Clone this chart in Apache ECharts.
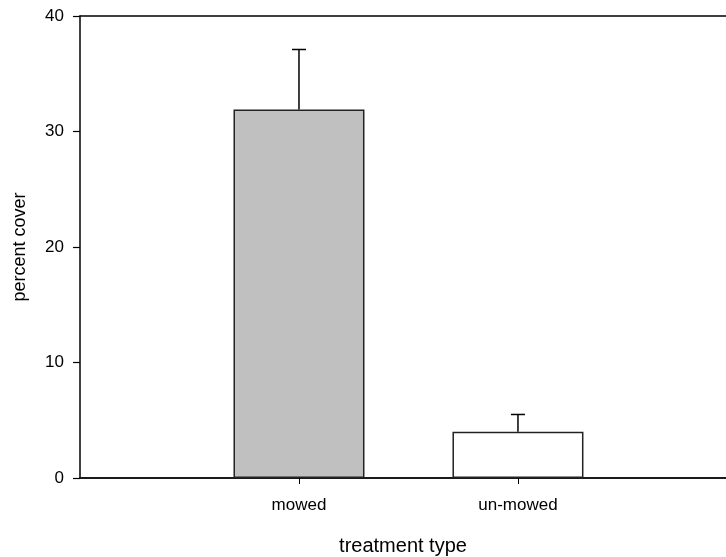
<!DOCTYPE html>
<html><head><meta charset="utf-8">
<script src="https://cdn.jsdelivr.net/npm/echarts@6/dist/echarts.min.js"></script>
<style>html,body{margin:0;padding:0;background:#fff}#c{width:726px;height:557px}</style>
</head><body><div id="c"></div>
<script>
const categories = ['mowed', 'un-mowed'];
const positions = [1, 2];
const means = [31.9, 4.0];
const errors = [5.2, 1.5];
const barColors = ['#c0c0c0', '#ffffff'];
const yTicks = [0, 10, 20, 30, 40];

const chart = echarts.init(document.getElementById('c'), null, {renderer: 'canvas'});
const font = 'Liberation Sans, Arial, sans-serif';
chart.setOption({
  animation: false,
  backgroundColor: '#fff',
  grid: {left: 80, top: 16, right: 0, bottom: 79, containLabel: false, outerBoundsMode: 'none'},
  xAxis: [{
    type: 'value', min: 0, max: 2.95, interval: 1,
    name: 'treatment type', nameLocation: 'middle', nameGap: 58,
    nameTextStyle: {fontFamily: font, fontSize: 20, color: '#000'},
    axisLine: {show: true, onZero: false, lineStyle: {color: '#1a1a1a', width: 2}},
    axisTick: {show: true, length: 6, inside: false, customValues: positions, lineStyle: {color: '#000', width: 1}},
    axisLabel: {customValues: positions, margin: 19, fontFamily: font, fontSize: 17, color: '#000',
      formatter: v => categories[positions.indexOf(v)] || ''},
    splitLine: {show: false}
  }, {
    type: 'value', position: 'top', min: 0, max: 2.95,
    axisLine: {show: true, onZero: false, lineStyle: {color: '#000', width: 1.5}},
    axisTick: {show: false}, axisLabel: {show: false}, splitLine: {show: false}
  }],
  yAxis: {
    type: 'value', min: yTicks[0], max: yTicks[yTicks.length-1], interval: 10,
    name: 'percent cover', nameLocation: 'middle', nameGap: 51, nameRotate: 90,
    nameTextStyle: {fontFamily: font, fontSize: 18, color: '#000'},
    axisLine: {show: true, lineStyle: {color: '#000', width: 1.5}},
    axisTick: {show: true, length: 7, inside: false, lineStyle: {color: '#000', width: 1.2}},
    axisLabel: {margin: 16, fontFamily: font, fontSize: 17, color: '#000'},
    splitLine: {show: false}
  },
  series: [
    {
      type: 'bar', barWidth: 131,
      data: positions.map((p, i) => ({value: [p, means[i]], itemStyle: {color: barColors[i], borderColor: '#222', borderWidth: 1.5}})),
      z: 2
    },
    {
      type: 'custom', z: 3,
      data: positions.map((p, i) => [p, means[i], means[i] + errors[i]]),
      renderItem: function (params, api) {
        const base = api.coord([api.value(0), api.value(1)]);
        const top = api.coord([api.value(0), api.value(2)]);
        const hw = 7;
        return {
          type: 'group',
          children: [
            {type: 'line', shape: {x1: base[0], y1: base[1], x2: top[0], y2: top[1]}, style: {stroke: '#000', lineWidth: 1.5}},
            {type: 'line', shape: {x1: top[0] - hw, y1: top[1], x2: top[0] + hw, y2: top[1]}, style: {stroke: '#000', lineWidth: 1.5}}
          ]
        };
      }
    }
  ]
});
</script></body></html>
